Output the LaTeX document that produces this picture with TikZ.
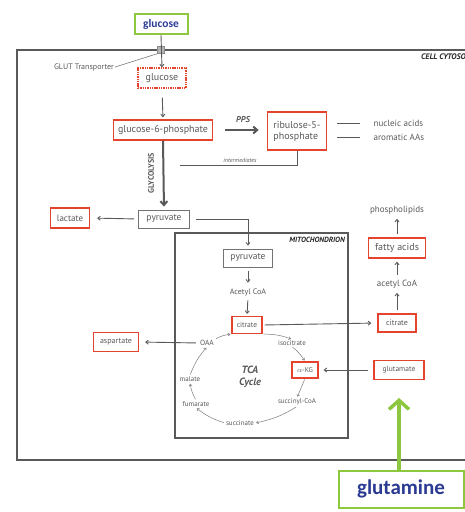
\documentclass[tikz,border=0pt]{standalone}
\usepackage{fontspec}
\setmainfont{PT Sans}
\newfontfamily\calloutfont{Carlito}
\usetikzlibrary{arrows.meta}
\definecolor{boxred}{HTML}{E4432E}
\definecolor{limegreen}{HTML}{8DC63F}
\definecolor{inkblue}{HTML}{2B3A93}
\definecolor{pathgray}{HTML}{595959}
\tikzset{
    redbox/.style={draw=boxred, line width=1.2pt, fill=white, text=pathgray, inner sep=2pt, font=\fontsize{10}{11}\selectfont},
    graybox/.style={draw=pathgray!85, line width=0.8pt, fill=white, text=pathgray, inner sep=2pt, font=\fontsize{9.5}{10}\selectfont},
    metab/.style={text=pathgray, inner sep=1.5pt, font=\fontsize{9}{10}\selectfont},
    tcastep/.style={text=pathgray, inner sep=1pt, font=\fontsize{7}{7}\selectfont},
    callout/.style={draw=limegreen, line width=2pt, fill=white, text=inkblue, font=\calloutfont\bfseries},
    regiontag/.style={text=black!85, inner sep=0pt, font=\fontsize{7.5}{7.5}\selectfont\bfseries\itshape},
    flow/.style={draw=pathgray, line width=0.9pt, -{Straight Barb[length=2.5pt,width=4pt]}},
    bigflow/.style={draw=pathgray, line width=2pt, -{Straight Barb[length=4pt,width=7pt]}},
    link/.style={draw=pathgray, line width=0.9pt},
    cyc/.style={draw=pathgray!80, line width=0.5pt, -{Straight Barb[length=2pt,width=3pt]}, shorten <=1pt, shorten >=1pt}
}
\begin{document}
\begin{tikzpicture}[x=1pt,y=-1pt]
    \useasboundingbox (0,0) rectangle (465,512);
    \clip (0,0) rectangle (465,512);
    %   cell and mitochondrion outlines
    \draw[pathgray, line width=1.6pt] (490,50) -- (17,50) -- (17,460) -- (490,460);
    \node[regiontag, font=\fontsize{8}{8}\selectfont\bfseries\itshape, anchor=north west] (cytosol) at (421,54) {CELL CYTOSOL};
    \draw[pathgray, line width=1.2pt] (175,233) rectangle (348,438);
    \node[regiontag, anchor=north east] (mito) at (345,237) {MITOCHONDRION};
    %   glucose uptake
    \node[callout, minimum width=53pt, minimum height=20pt, font=\calloutfont\bfseries\fontsize{11.5}{12}\selectfont] (glucose) at (161,24) {glucose};
    \node[draw=pathgray!70, fill=pathgray!45, minimum size=7pt, inner sep=0pt] (glut) at (161,50) {};
    \node[tcastep, font=\fontsize{8}{8}\selectfont] (gluttext) at (84,67) {GLUT Transporter};
    \draw[pathgray!80, line width=0.6pt] (gluttext.east) -- (glut.south west);
    \node[redbox, dash pattern=on 1.4pt off 0.9pt, minimum width=48pt, minimum height=20pt] (gluc) at (162,78) {glucose};
    \draw[flow] (glucose.south) -- (gluc.north);
    \node[redbox, minimum width=99pt, minimum height=20pt] (g6p) at (163,130) {glucose-6-phosphate};
    \draw[flow, shorten <=9pt, shorten >=2pt] (gluc.south) -- (g6p.north);
    %   pentose phosphate branch
    \node[redbox, line width=1.6pt, align=left, minimum width=59pt, minimum height=38pt] (ribulose) at (297,131) {ribulose-5-\\phosphate};
    \draw[bigflow, shorten <=12pt, shorten >=8pt] (g6p.east) -- (ribulose.west |- g6p.east);
    \node[font=\fontsize{8.5}{9}\selectfont\bfseries\itshape, text=pathgray] (pps) at (243,120) {PPS};
    \node[metab, anchor=west] (nucleic) at (372,123) {nucleic acids};
    \node[metab, anchor=west] (aromatic) at (372,137) {aromatic AAs};
    \draw[link] ([xshift=-35pt]nucleic.west) -- ([xshift=-12pt]nucleic.west);
    \draw[link] ([xshift=-35pt]aromatic.west) -- ([xshift=-12pt]aromatic.west);
    \coordinate (intermend) at (180,165);
    \draw[link] (ribulose.south) |- (intermend);
    \node[tcastep, font=\fontsize{6}{6}\selectfont\itshape] (interm) at (240,160) {intermediates};
    %   glycolysis
    \node[graybox, minimum width=51pt, minimum height=18pt] (pyr) at (164,219) {pyruvate};
    \draw[bigflow, shorten >=3pt] (g6p.south) -- (pyr.north);
    \node[rotate=90, font=\fontsize{8}{8}\selectfont\bfseries, text=pathgray] (glyco) at (151,173) {GLYCOLYSIS};
    \node[redbox, minimum width=39pt, minimum height=20pt, font=\fontsize{9}{10}\selectfont] (lactate) at (70,218) {lactate};
    \draw[flow, shorten <=4pt, shorten >=7pt] (pyr.west) -- (lactate.east);
    %   mitochondrion
    \node[graybox, minimum width=49pt, minimum height=18pt] (mpyr) at (248,258) {pyruvate};
    \draw[flow, shorten <=6pt, shorten >=3pt] (pyr.east) -| (mpyr.north);
    \node[metab, font=\fontsize{8}{8}\selectfont] (macetyl) at (248,292) {Acetyl CoA};
    \node[redbox, font=\fontsize{7.5}{8}\selectfont, minimum width=30pt, minimum height=17pt] (mcit) at (247,325) {citrate};
    \draw[flow, shorten <=4pt, shorten >=4pt] (mpyr.south) -- (macetyl.north);
    \draw[flow, shorten <=3pt, shorten >=2pt] (macetyl.south) -- (mcit.north);
    %   TCA cycle
    \node[tcastep] (isocit) at (292,343) {isocitrate};
    \node[redbox, font=\fontsize{7}{7}\selectfont, minimum width=26pt, minimum height=16pt] (akg) at (305,370) {$\alpha$-KG};
    \node[tcastep] (succoa) at (297,402) {succinyl-CoA};
    \node[tcastep] (succ) at (240,423) {succinate};
    \node[tcastep] (fum) at (196,404) {fumarate};
    \node[tcastep] (mal) at (190,379) {malate};
    \node[tcastep, font=\fontsize{7.5}{8}\selectfont] (oaa) at (207,343) {OAA};
    \node[align=center, font=\fontsize{10.5}{12}\selectfont\bfseries\itshape, text=pathgray] (tca) at (250,377) {TCA\\Cycle};
    \draw[cyc] (mcit.south east) to[bend left=10] (isocit.north);
    \draw[cyc] (isocit.south) to[bend left=10] (akg.north);
    \draw[cyc] (akg.south) -- (succoa.north);
    \draw[cyc] (succoa.south) to[bend left=10] (succ.east);
    \draw[cyc] (succ.west) to[bend left=10] (fum.south);
    \draw[cyc] (fum.north) to[bend left=10] (mal.south);
    \draw[cyc] (mal.north) to[bend left=10] (oaa.south);
    \draw[cyc] (oaa.north east) to[bend left=10] (mcit.south west);
    %   exits from the cycle
    \node[redbox, minimum width=45pt, minimum height=19pt, font=\fontsize{8}{8}\selectfont] (asp) at (116,342) {aspartate};
    \draw[flow, shorten <=3pt, shorten >=6pt] (oaa.west) -- (asp.east);
    \node[redbox, minimum width=38pt, minimum height=18pt, font=\fontsize{8}{8}\selectfont] (ccit) at (397,323) {citrate};
    \draw[flow, shorten <=2pt, shorten >=6pt] (mcit.east) -- (ccit.west);
    \node[metab] (cacetyl) at (397,284) {acetyl CoA};
    \node[redbox, minimum width=57pt, minimum height=20pt] (fatty) at (397,248) {fatty acids};
    \node[metab] (phospho) at (397,210) {phospholipids};
    \draw[flow, shorten <=3pt, shorten >=3pt] (ccit.north) -- (cacetyl.south);
    \draw[flow, shorten <=3pt, shorten >=3pt] (cacetyl.north) -- (fatty.south);
    \draw[flow, shorten <=3pt, shorten >=3pt] (fatty.north) -- (phospho.south);
    \node[redbox, minimum width=50pt, minimum height=19pt, font=\fontsize{7.5}{8}\selectfont] (glu) at (399,370) {glutamate};
    \draw[flow, shorten <=5pt, shorten >=5pt] (glu.west) -- (akg.east);
    %   glutamine input
    \node[callout, minimum width=125pt, minimum height=37pt, font=\calloutfont\bfseries\fontsize{21}{22}\selectfont] (glutamine) at (401,489) {glutamine};
    \coordinate (gltip) at (399,398);
    \draw[limegreen, line width=3.5pt, -{Straight Barb[length=9pt,width=20pt]}] (glutamine.north -| gltip) -- (gltip);
\end{tikzpicture}
\end{document}
